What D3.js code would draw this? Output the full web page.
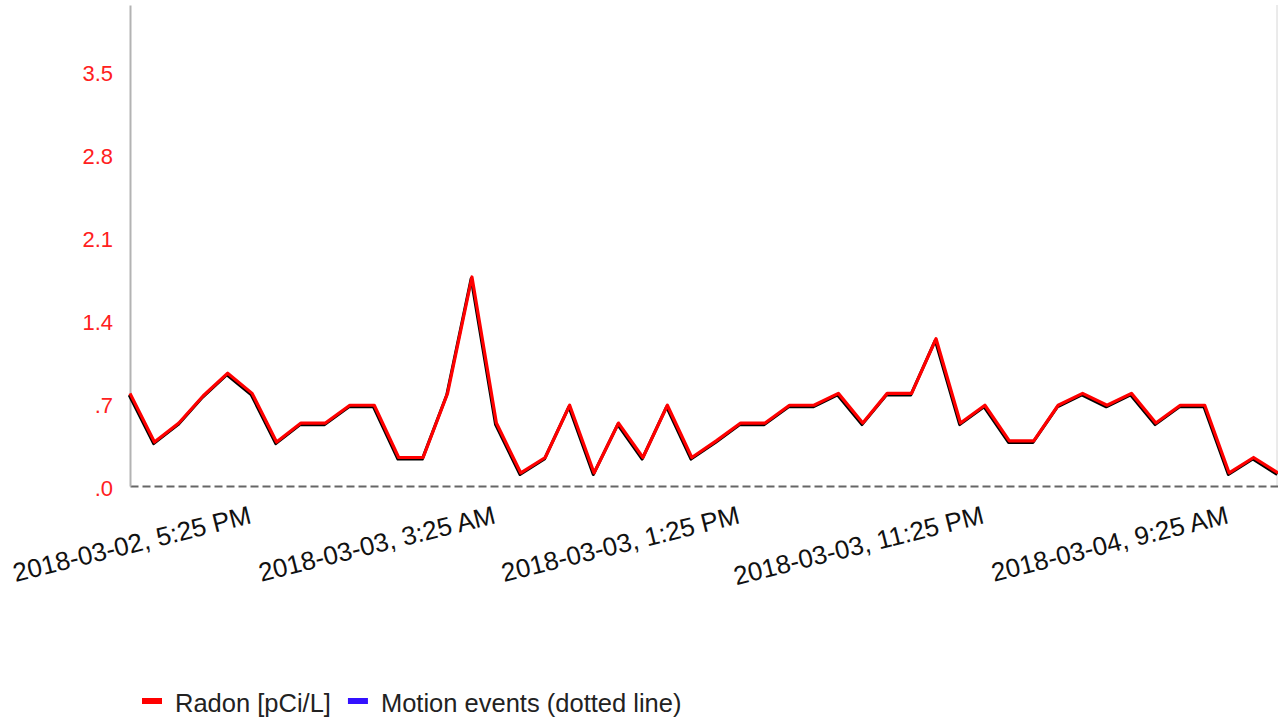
<!DOCTYPE html>
<html>
<head>
<meta charset="utf-8">
<script src="https://cdn.jsdelivr.net/npm/d3@7"></script>
<style>
  body { margin: 0; background: #fff; }
  text { font-family: "Liberation Sans", Arial, Helvetica, sans-serif; }
</style>
</head>
<body>
<div id="chart"></div>
<script>
// radon readings, one per hour starting 2018-03-02 12:25 PM
const startTime = "2018-03-02T12:25:00";
const radon = [
    0.78, 0.37, 0.53, 0.76, 0.95, 0.78, 0.37, 0.53, 0.53, 0.68,
    0.68, 0.24, 0.24, 0.78, 1.76, 0.53, 0.11, 0.24, 0.68, 0.11,
    0.53, 0.24, 0.68, 0.24, 0.38, 0.53, 0.53, 0.68, 0.68, 0.78,
    0.53, 0.78, 0.78, 1.24, 0.53, 0.68, 0.38, 0.38, 0.68, 0.78,
    0.68, 0.78, 0.53, 0.68, 0.68, 0.11, 0.24, 0.11
];

const yTicks = [0, 0.7, 1.4, 2.1, 2.8, 3.5];
const yTickLabels = [".0", ".7", "1.4", "2.1", "2.8", "3.5"];
const xTicks = [
    "2018-03-02T17:25:00", "2018-03-03T03:25:00", "2018-03-03T13:25:00",
    "2018-03-03T23:25:00", "2018-03-04T09:25:00"
];
const legendItems = ["Radon [pCi/L]", "Motion events (dotted line)"];
const legendColors = ["#ff0000", "#3311ff"];

const width = 1278;
const height = 719;

const svg = d3.select("#chart")
    .append("svg")
    .attr("width", width)
    .attr("height", height);

const t0 = new Date(startTime);
const data = radon.map((v, i) => ({ t: d3.timeHour.offset(t0, i), v: v }));

const x = d3.scaleTime()
    .domain(d3.extent(data, d => d.t))
    .range([130, 1278]);

const y = d3.scaleLinear()
    .domain([0, 4.05])
    .range([486, 5]);

const fmt = d3.timeFormat("%Y-%m-%d, %-I:%M %p");

// right edge frame line
svg.append("line")
    .attr("x1", 1277).attr("x2", 1277)
    .attr("y1", 5).attr("y2", 486)
    .attr("stroke", "#d6d6d6")
    .attr("stroke-width", 1);

// x axis: dashed baseline at zero
const xAxis = svg.append("g")
    .attr("transform", "translate(0," + y(0) + ")")
    .call(d3.axisBottom(x)
        .tickValues(xTicks.map(s => new Date(s)))
        .tickFormat(fmt)
        .tickSize(0)
        .tickSizeOuter(0));

xAxis.select(".domain")
    .attr("stroke", "#666")
    .attr("stroke-width", 2)
    .attr("stroke-dasharray", "8,4");

xAxis.selectAll("text")
    .attr("x", 0)
    .attr("y", 0)
    .attr("dy", 0)
    .attr("text-anchor", "end")
    .attr("transform", "translate(0,37) rotate(-14)")
    .attr("fill", "#111")
    .style("font-size", "26px");

// y axis
const yAxis = svg.append("g")
    .attr("transform", "translate(130,0)")
    .call(d3.axisLeft(y)
        .tickValues(yTicks)
        .tickFormat((d, i) => yTickLabels[i])
        .tickSize(0)
        .tickSizeOuter(0)
        .tickPadding(17));

yAxis.select(".domain")
    .attr("stroke", "#b3b3b3")
    .attr("stroke-width", 2);

yAxis.selectAll("text")
    .attr("dy", "0.45em")
    .attr("fill", "#ff2020")
    .style("font-size", "22px");

// radon line with a dark shadow underneath
const line = d3.line()
    .x(d => x(d.t))
    .y(d => y(d.v));

svg.append("path")
    .datum(data)
    .attr("d", line)
    .attr("transform", "translate(-0.8,1.6)")
    .attr("fill", "none")
    .attr("stroke", "#000")
    .attr("stroke-width", 3)
    .attr("stroke-linejoin", "round");

svg.append("path")
    .datum(data)
    .attr("d", line)
    .attr("fill", "none")
    .attr("stroke", "#ff0000")
    .attr("stroke-width", 3.2)
    .attr("stroke-linejoin", "round");

// legend
const legend = svg.append("g").attr("transform", "translate(142,0)");
let lx = 0;
legendItems.forEach((label, i) => {
    legend.append("rect")
        .attr("x", lx)
        .attr("y", 698)
        .attr("width", 20)
        .attr("height", 6)
        .attr("fill", legendColors[i]);
    const txt = legend.append("text")
        .attr("x", lx + 33)
        .attr("y", 712)
        .attr("fill", "#222")
        .style("font-size", "25.5px")
        .text(label);
    lx += 33 + txt.node().getComputedTextLength() + 17;
});
</script>
</body>
</html>
